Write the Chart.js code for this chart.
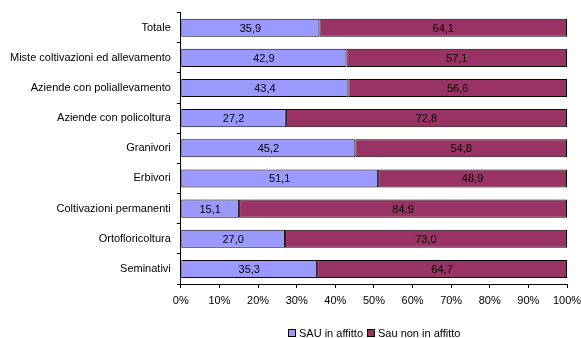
<!DOCTYPE html>
<html>
<head>
  <meta charset="UTF-8">
  <title>SAU in affitto per orientamento</title>
  <script src="https://cdn.jsdelivr.net/npm/chart.js@4/dist/chart.umd.min.js"></script>
  <style>
    html, body { margin: 0; padding: 0; background: #fff; }
  </style>
</head>
<body>
<canvas id="chart" width="581" height="338"></canvas>
<script>
  // categorie (dall'alto in basso) e quote percentuali
  var categorie = [
    "Totale",
    "Miste coltivazioni ed allevamento",
    "Aziende con poliallevamento",
    "Aziende con policoltura",
    "Granivori",
    "Erbivori",
    "Coltivazioni permanenti",
    "Ortofloricoltura",
    "Seminativi"
  ];
  var sauAffitto    = [35.9, 42.9, 43.4, 27.2, 45.2, 51.1, 15.1, 27.0, 35.3];
  var sauNonAffitto = [64.1, 57.1, 56.6, 72.8, 54.8, 48.9, 84.9, 73.0, 64.7];
  var tickPerc = [0, 10, 20, 30, 40, 50, 60, 70, 80, 90, 100];

  var FONT = "11px 'Liberation Sans', Arial, sans-serif";
  Chart.defaults.font.family = "'Liberation Sans', Arial, sans-serif";
  Chart.defaults.font.size = 11;
  Chart.defaults.color = "#000";

  // scrive il valore al centro di ogni segmento
  var etichette = {
    id: "etichette",
    afterDatasetsDraw: function(chart) {
      var ctx = chart.ctx;
      ctx.save();
      ctx.font = FONT;
      ctx.fillStyle = "#000";
      ctx.textAlign = "center";
      ctx.textBaseline = "middle";
      chart.data.datasets.forEach(function(ds, i) {
        chart.getDatasetMeta(i).data.forEach(function(bar, j) {
          var x = (bar.x + bar.base) / 2;
          ctx.fillText(ds.data[j].toFixed(1).replace(".", ","), x, bar.y + 1);
        });
      });
      ctx.restore();
    }
  };

  // legenda in basso, centrata sull'area del grafico
  var legenda = {
    id: "legenda",
    afterDraw: function(chart) {
      var ctx = chart.ctx, area = chart.chartArea;
      var y = 333, box = 7, gap = 4, sep = 4;
      ctx.save();
      ctx.font = FONT;
      ctx.textBaseline = "middle";
      var items = chart.data.datasets.map(function(ds) {
        return { text: ds.label, color: ds.backgroundColor, w: ctx.measureText(ds.label).width };
      });
      var total = 0;
      items.forEach(function(it, i) { total += box + gap + it.w + (i ? sep : 0); });
      var x = Math.round((area.left + area.right) / 2 - total / 2);
      items.forEach(function(it) {
        ctx.fillStyle = it.color;
        ctx.fillRect(x + 0.5, y - 3.5, box, box);
        ctx.strokeStyle = "#000";
        ctx.lineWidth = 1;
        ctx.strokeRect(x + 0.5, y - 3.5, box, box);
        ctx.fillStyle = "#000";
        ctx.fillText(it.text, x + box + gap, y + 1);
        x += box + gap + it.w + sep;
      });
      ctx.restore();
    }
  };

  new Chart(document.getElementById("chart"), {
    type: "bar",
    data: {
      labels: categorie,
      datasets: [{
        label: "SAU in affitto",
        data: sauAffitto,
        backgroundColor: "#9999FF",
        borderColor: "#000",
        borderWidth: 1,
        borderSkipped: false
      }, {
        label: "Sau non in affitto",
        data: sauNonAffitto,
        backgroundColor: "#993366",
        borderColor: "#000",
        borderWidth: 1,
        borderSkipped: false
      }]
    },
    options: {
      indexAxis: "y",
      responsive: false,
      animation: false,
      devicePixelRatio: 1,
      barPercentage: 0.6,
      categoryPercentage: 1,
      layout: { padding: { left: 4, right: 0, top: 12, bottom: 0 } },
      scales: {
        x: {
          stacked: true,
          min: 0,
          max: 100,
          afterBuildTicks: function(axis) {
            axis.ticks = tickPerc.map(function(v) { return { value: v }; });
          },
          afterFit: function(axis) {
            // lascia spazio sotto le etichette per la legenda
            axis.height = 54;
            axis.paddingRight = 14;
          },
          ticks: {
            callback: function(v) { return v + "%"; },
            padding: 6,
            autoSkip: false,
            maxRotation: 0
          },
          grid: {
            drawOnChartArea: false,
            drawTicks: true,
            tickLength: 4,
            color: "#000"
          },
          border: { color: "#000" }
        },
        y: {
          stacked: true,
          ticks: { padding: 6, autoSkip: false },
          grid: {
            offset: true,
            drawOnChartArea: false,
            tickLength: 4,
            color: "#000"
          },
          border: { color: "#000" }
        }
      },
      plugins: {
        legend: { display: false },
        tooltip: { enabled: false }
      }
    },
    plugins: [etichette, legenda]
  });
</script>
</body>
</html>
